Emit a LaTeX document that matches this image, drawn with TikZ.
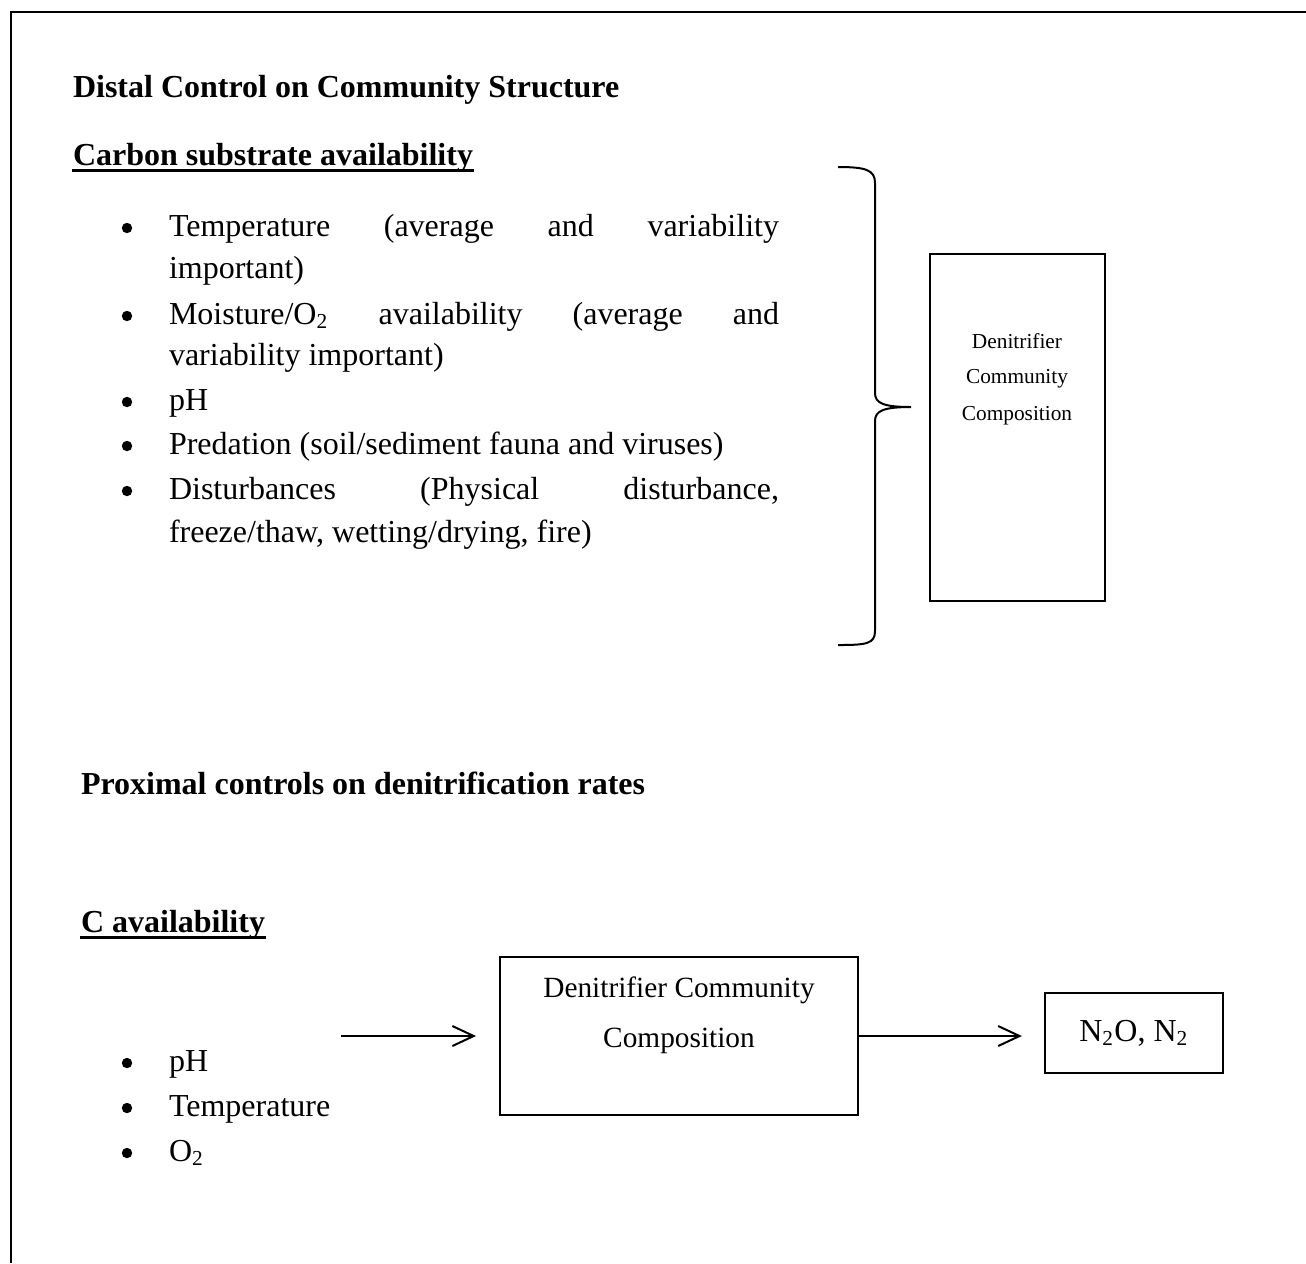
\documentclass[tikz,border=0pt]{standalone}
\usepackage{fontspec}
\setmainfont{Liberation Serif}
\usetikzlibrary{arrows.meta,calc}

\begin{document}
\begin{tikzpicture}[x=0.375pt,y=-0.375pt,line width=0.75pt,
  txt/.style={anchor=base west, inner sep=0pt, font=\fontsize{12}{14}\selectfont},
  head/.style={anchor=base west, inner sep=0pt, font=\fontsize{12}{14}\selectfont\bfseries},
  dot/.style={circle, fill, inner sep=0pt, minimum size=3.9pt},
  box/.style={draw, inner sep=0pt},
  arr/.style={-{Straight Barb[length=8pt,width=7.5pt]}}]

% --- layout params ---
\def\bx{127}        % bullet column
\def\tx{168}        % text column
\def\jw{228.75pt}   % justified line width

\useasboundingbox (0,0) rectangle (1306,1263);

% --- frame (open at right and bottom) ---
\draw (11,1263) -- (11,12) -- (1306,12);

% --- distal section ---
\node[head] (distal) at (72,97) {Distal Control on Community Structure};
\node[head] (carbon) at (72,165) {Carbon substrate availability};
\draw[line width=1.2pt] ($(carbon.base west)+(0,5.5)$) -- ($(carbon.base east)+(0,5.5)$);

\foreach \yy [count=\bi] in {236,324,410,454,499}
  \node[dot] (dot\bi) at (\bx,\yy-8) {};

\foreach \yy/\line [count=\li] in
  {236/{\makebox[\jw][s]{Temperature (average and variability}},
   278/{important)},
   324/{\makebox[\jw][s]{Moisture/O\textsubscript{2} availability (average and}},
   365/{variability important)},
   410/{pH},
   454/{Predation (soil/sediment fauna and viruses)},
   499/{\makebox[\jw][s]{Disturbances (Physical disturbance,}},
   542/{freeze/thaw, wetting/drying, fire)}}
  \node[txt] (ln\li) at (\tx,\yy) {\line};

% --- brace ---
\draw (838,167) .. controls (866,167) and (875,170) .. (875,183)
  -- (875,393) .. controls (875,403) and (883,407) .. (911,407)
  .. controls (883,407) and (875,411) .. (875,421)
  -- (875,631) .. controls (875,644) and (866,645) .. (838,645);

% --- tall box ---
\node[box, minimum width=65.6pt, minimum height=130.1pt] (tallbox) at (1017.5,427.5) {};
\foreach \yy/\word [count=\ti] in {348/Denitrifier,383/Community,420/Composition}
  \node[anchor=base, inner sep=0pt, font=\fontsize{8}{10}\selectfont] (tlbl\ti) at (1017,\yy) {\word};

% --- proximal section ---
\node[head] (proximal) at (80,794) {Proximal controls on denitrification rates};
\node[head] (cavail) at (80,932) {C availability};
\draw[line width=1.2pt] ($(cavail.base west)+(0,5.5)$) -- ($(cavail.base east)+(0,5.5)$);

\foreach \yy/\line [count=\pi] in {1071/pH,1116/Temperature,1161/{O\textsubscript{2}}}{
  \node[dot] (pdot\pi) at (\bx,\yy-8) {};
  \node[txt] (pln\pi) at (\tx,\yy) {\line};
}

% --- flow boxes ---
\node[box, minimum width=134.25pt, minimum height=59.25pt] (dbox) at (679,1036) {};
\node[anchor=base, inner sep=0pt, font=\fontsize{11}{13}\selectfont] (dtxt1) at (679,997) {Denitrifier Community};
\node[anchor=base, inner sep=0pt, font=\fontsize{11}{13}\selectfont] (dtxt2) at (679,1047) {Composition};
\node[box, minimum width=66.75pt, minimum height=30pt, font=\fontsize{12}{14}\selectfont] (nbox) at (1134,1033) {N\textsubscript{2}O, N\textsubscript{2}};

\coordinate (src) at (341,1036);
\draw[arr, shorten >=8.6pt] (src) -- (dbox.west);
\draw[arr, shorten >=8.3pt] (dbox.east) -- (dbox.east -| nbox.west);

\end{tikzpicture}
\end{document}
